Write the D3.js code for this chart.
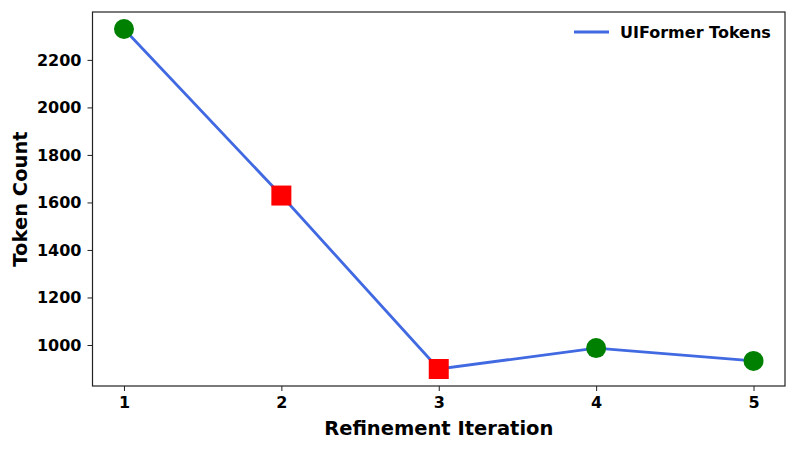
<!DOCTYPE html>
<html><head><meta charset="utf-8">
<script src="https://cdn.jsdelivr.net/npm/d3@7"></script>
<style>body{margin:0;background:#fff;} svg{display:block;font-family:"DejaVu Sans",sans-serif;}</style>
</head><body>
<svg id="c" width="798" height="450"></svg>
<script>
const iterations = [1, 2, 3, 4, 5];
const tokenCounts = [2330, 1629, 899, 987, 933];
const markerKinds = ["circle", "square", "square", "circle", "circle"];
const yTicks = [1000, 1200, 1400, 1600, 1800, 2000, 2200];
const seriesName = "UIFormer Tokens";

const svg = d3.select("#c");
const m = {l: 92.5, r: 785, t: 12, b: 386};
const x = d3.scaleLinear().domain([0.8, 5.2]).range([m.l, m.r]);
const yMin = 899 - 0.05 * (2330 - 899), yMax = 2330 + 0.05 * (2330 - 899);
const y = d3.scaleLinear().domain([yMin, yMax]).range([m.b, m.t]);

const xAxis = svg.append("g").attr("transform", `translate(0,${m.b})`)
  .call(d3.axisBottom(x).tickValues(iterations).tickFormat(d3.format("d")).tickSize(5).tickPadding(6));
const yAxis = svg.append("g").attr("transform", `translate(${m.l},0)`)
  .call(d3.axisLeft(y).tickValues(yTicks).tickFormat(d3.format("d")).tickSize(5).tickPadding(6));
[xAxis, yAxis].forEach(a => {
  a.attr("font-size", null).attr("font-family", null);
  a.select(".domain").remove();
  a.selectAll("line").attr("stroke", "#222").attr("stroke-width", 1);
  a.selectAll("text").style("font-family", "DejaVu Sans").style("font-weight", "bold")
    .style("font-size", "16px").attr("fill", "#000");
});

svg.append("rect").attr("x", m.l).attr("y", m.t).attr("width", m.r - m.l).attr("height", m.b - m.t)
  .attr("fill", "none").attr("stroke", "#222").attr("stroke-width", 1.2);

const pts = iterations.map((d, i) => ({x: d, y: tokenCounts[i], k: markerKinds[i]}));
svg.append("path").datum(pts)
  .attr("d", d3.line().x(d => x(d.x)).y(d => y(d.y)))
  .attr("fill", "none").attr("stroke", "#4169E1").attr("stroke-width", 2.8);

svg.selectAll(".c").data(pts.filter(d => d.k === "circle")).enter().append("circle")
  .attr("cx", d => x(d.x)).attr("cy", d => y(d.y)).attr("r", 10).attr("fill", "#008000");
svg.selectAll(".s").data(pts.filter(d => d.k === "square")).enter().append("rect")
  .attr("x", d => x(d.x) - 10).attr("y", d => y(d.y) - 10).attr("width", 20).attr("height", 20).attr("fill", "#ff0000");

svg.append("text").attr("x", (m.l + m.r) / 2).attr("y", 435).attr("text-anchor", "middle")
  .style("font-weight", "bold").style("font-size", "19.5px").text("Refinement Iteration");
svg.append("text").attr("transform", `translate(26.5,${(m.t + m.b) / 2}) rotate(-90)`).attr("text-anchor", "middle")
  .style("font-weight", "bold").style("font-size", "19.5px").text("Token Count");

svg.append("line").attr("x1", 574).attr("x2", 609).attr("y1", 32).attr("y2", 32)
  .attr("stroke", "#4169E1").attr("stroke-width", 2.8);
svg.append("text").attr("x", 620).attr("y", 38).style("font-weight", "bold").style("font-size", "16px")
  .text(seriesName);
</script>
</body></html>
